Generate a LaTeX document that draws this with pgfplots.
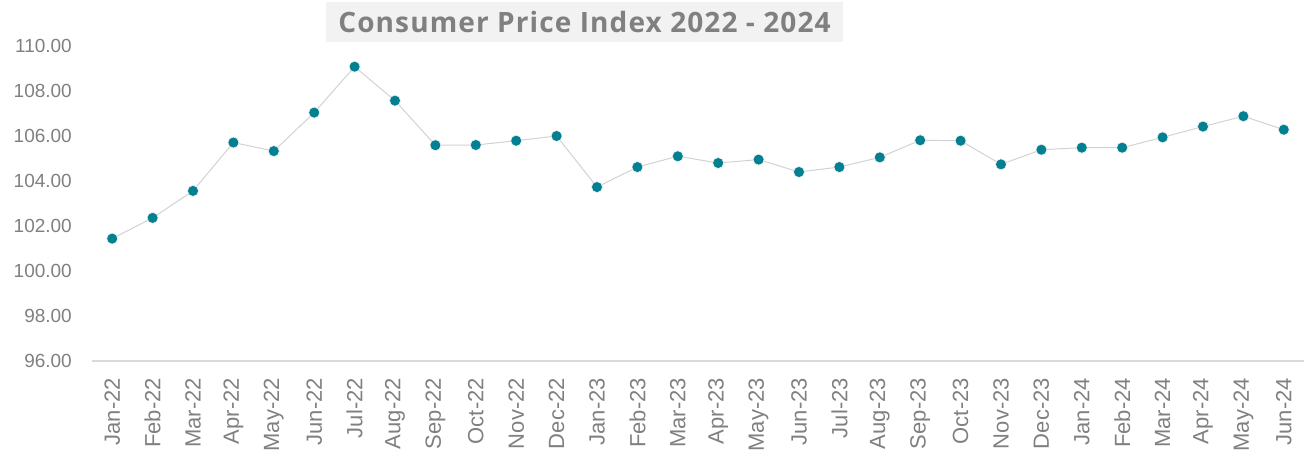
\documentclass[border=0pt]{standalone}
\usepackage{pgfplots}
\pgfplotsset{compat=1.18}
\usepackage{fontspec}
\setmainfont{Liberation Sans}
\newfontfamily\titlefont[LetterSpace=4]{Open Sans}
\definecolor{txt}{RGB}{128,128,128}
\definecolor{titlebg}{RGB}{242,242,242}
\definecolor{linegray}{RGB}{210,210,210}
\definecolor{axisgray}{RGB}{217,217,217}
\definecolor{markteal}{RGB}{0,128,145}
\begin{document}
\begin{tikzpicture}[x=1pt,y=1pt]
\useasboundingbox (0,0) rectangle (1304,454);
\begin{axis}[
  at={(92pt,93pt)}, anchor=south west,
  scale only axis, width=1212pt, height=315pt,
  xmin=-0.5, xmax=29.5, ymin=96, ymax=110,
  ytick={96,98,...,110},
  xtick={0,...,29},
  xticklabels={Jan-22,Feb-22,Mar-22,Apr-22,May-22,Jun-22,Jul-22,Aug-22,Sep-22,Oct-22,Nov-22,Dec-22,Jan-23,Feb-23,Mar-23,Apr-23,May-23,Jun-23,Jul-23,Aug-23,Sep-23,Oct-23,Nov-23,Dec-23,Jan-24,Feb-24,Mar-24,Apr-24,May-24,Jun-24},
  axis x line*=bottom, axis y line*=left,
  x axis line style={draw=axisgray, line width=1.5pt, -},
  y axis line style={draw=none},
  major tick length=0pt,
  tick style={draw=none},
  /pgf/number format/assume math mode=true,
  yticklabel={\pgfmathprintnumber[fixed, fixed zerofill, precision=2, 1000 sep={}]{\tick}},
  yticklabel style={font=\fontsize{19}{19}\selectfont, text=txt, anchor=east, inner sep=0pt},
  yticklabel shift=20pt,
  xticklabel style={font=\fontsize{22}{22}\selectfont, text=txt, rotate=90, anchor=east, inner sep=0pt},
  xticklabel shift=17pt,
  clip=false,
]
\addplot[color=linegray, line width=1pt, mark=*, mark size=5.5pt,
  mark options={fill=markteal, draw=white!88!gray, line width=0.6pt}]
coordinates {
(0,101.44) (1,102.36) (2,103.56) (3,105.71) (4,105.33) (5,107.04) (6,109.08) (7,107.57) (8,105.59) (9,105.60)
(10,105.79) (11,106.00) (12,103.73) (13,104.62) (14,105.10) (15,104.80) (16,104.95) (17,104.40) (18,104.62) (19,105.05)
(20,105.81) (21,105.79) (22,104.74) (23,105.39) (24,105.48) (25,105.48) (26,105.94) (27,106.42) (28,106.88) (29,106.28)
};
\end{axis}
\node[fill=titlebg, text=txt, font=\titlefont\bfseries\fontsize{28}{28}\selectfont, minimum width=517pt, minimum height=40pt, inner sep=0pt] at (584.5,432) {Consumer Price Index 2022 - 2024};
\end{tikzpicture}
\end{document}
